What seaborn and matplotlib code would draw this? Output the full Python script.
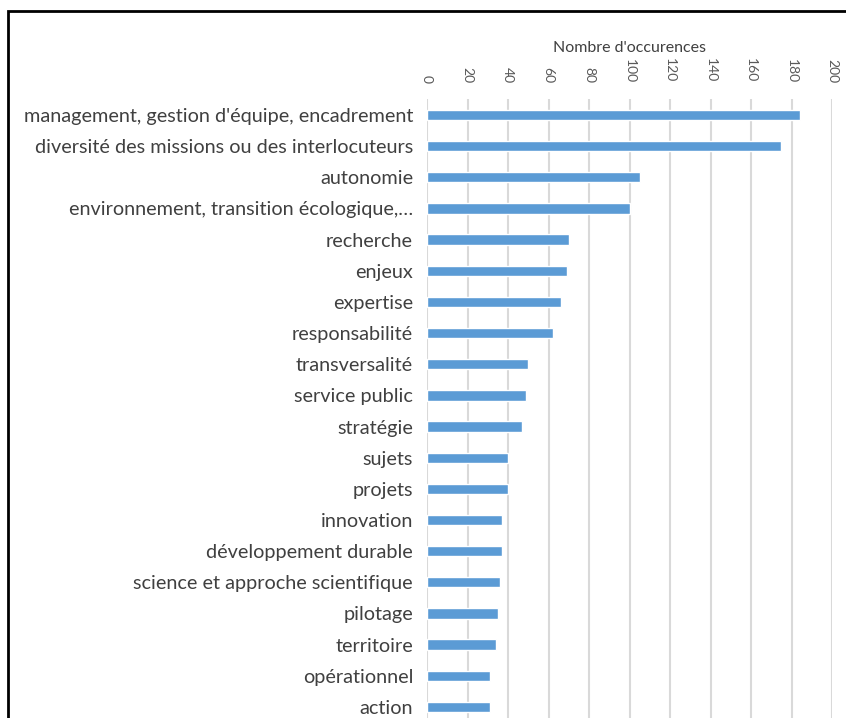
import matplotlib
matplotlib.use("Agg")
import matplotlib.pyplot as plt
import seaborn as sns
import pandas as pd
from matplotlib.patches import Rectangle

categories = [
    "management, gestion d'équipe, encadrement",
    "diversité des missions ou des interlocuteurs",
    "autonomie",
    "environnement, transition écologique,…",
    "recherche",
    "enjeux",
    "expertise",
    "responsabilité",
    "transversalité",
    "service public",
    "stratégie",
    "sujets",
    "projets",
    "innovation",
    "développement durable",
    "science et approche scientifique",
    "pilotage",
    "territoire",
    "opérationnel",
    "action",
]
occurrences = [184, 175, 105, 100, 70, 69, 66, 62, 50, 49, 47, 40, 40, 37, 37, 36, 35, 34, 31, 31]
x_ticks = [0, 20, 40, 60, 80, 100, 120, 140, 160, 180, 200]
axis_title = "Nombre d'occurences"

sns.set_theme(style="white")
plt.rcParams["font.family"] = ["Lato", "DejaVu Sans"]

df = pd.DataFrame({"mot": categories, "n": occurrences})

fig = plt.figure(figsize=(8.46, 7.18), dpi=100)
ax = fig.add_axes([427 / 846, -0.0063, 405 / 846, 0.8679])

sns.barplot(data=df, x="n", y="mot", orient="h", color="#5b9bd5",
            saturation=1, width=0.33, ax=ax, zorder=3)

ax.set_xlim(0, 200)
ax.set_ylim(19.5, -0.5)
ax.set_xticks(x_ticks)
ax.xaxis.tick_top()
ax.xaxis.set_label_position("top")
ax.tick_params(axis="x", length=0, pad=12, labelsize=10, labelcolor="#595959",
               labelrotation=270)
ax.tick_params(axis="y", length=0, pad=10, labelsize=14.3, labelcolor="#404040")
ax.set_xlabel(axis_title, fontsize=11.5, color="#404040", labelpad=5)
ax.set_ylabel("")
ax.grid(axis="x", color="#d9d9d9", linewidth=1.5, zorder=0)
ax.grid(axis="y", visible=False)
ax.set_axisbelow(True)
for s in ax.spines.values():
    s.set_visible(False)

# outer frame around the chart area
fig.patches.append(Rectangle((7.5 / 846, -0.2), 1.2, 1.2 - 10.5 / 718,
                             transform=fig.transFigure, fill=False,
                             edgecolor="black", linewidth=2))

fig.savefig("out.png", dpi=100)
